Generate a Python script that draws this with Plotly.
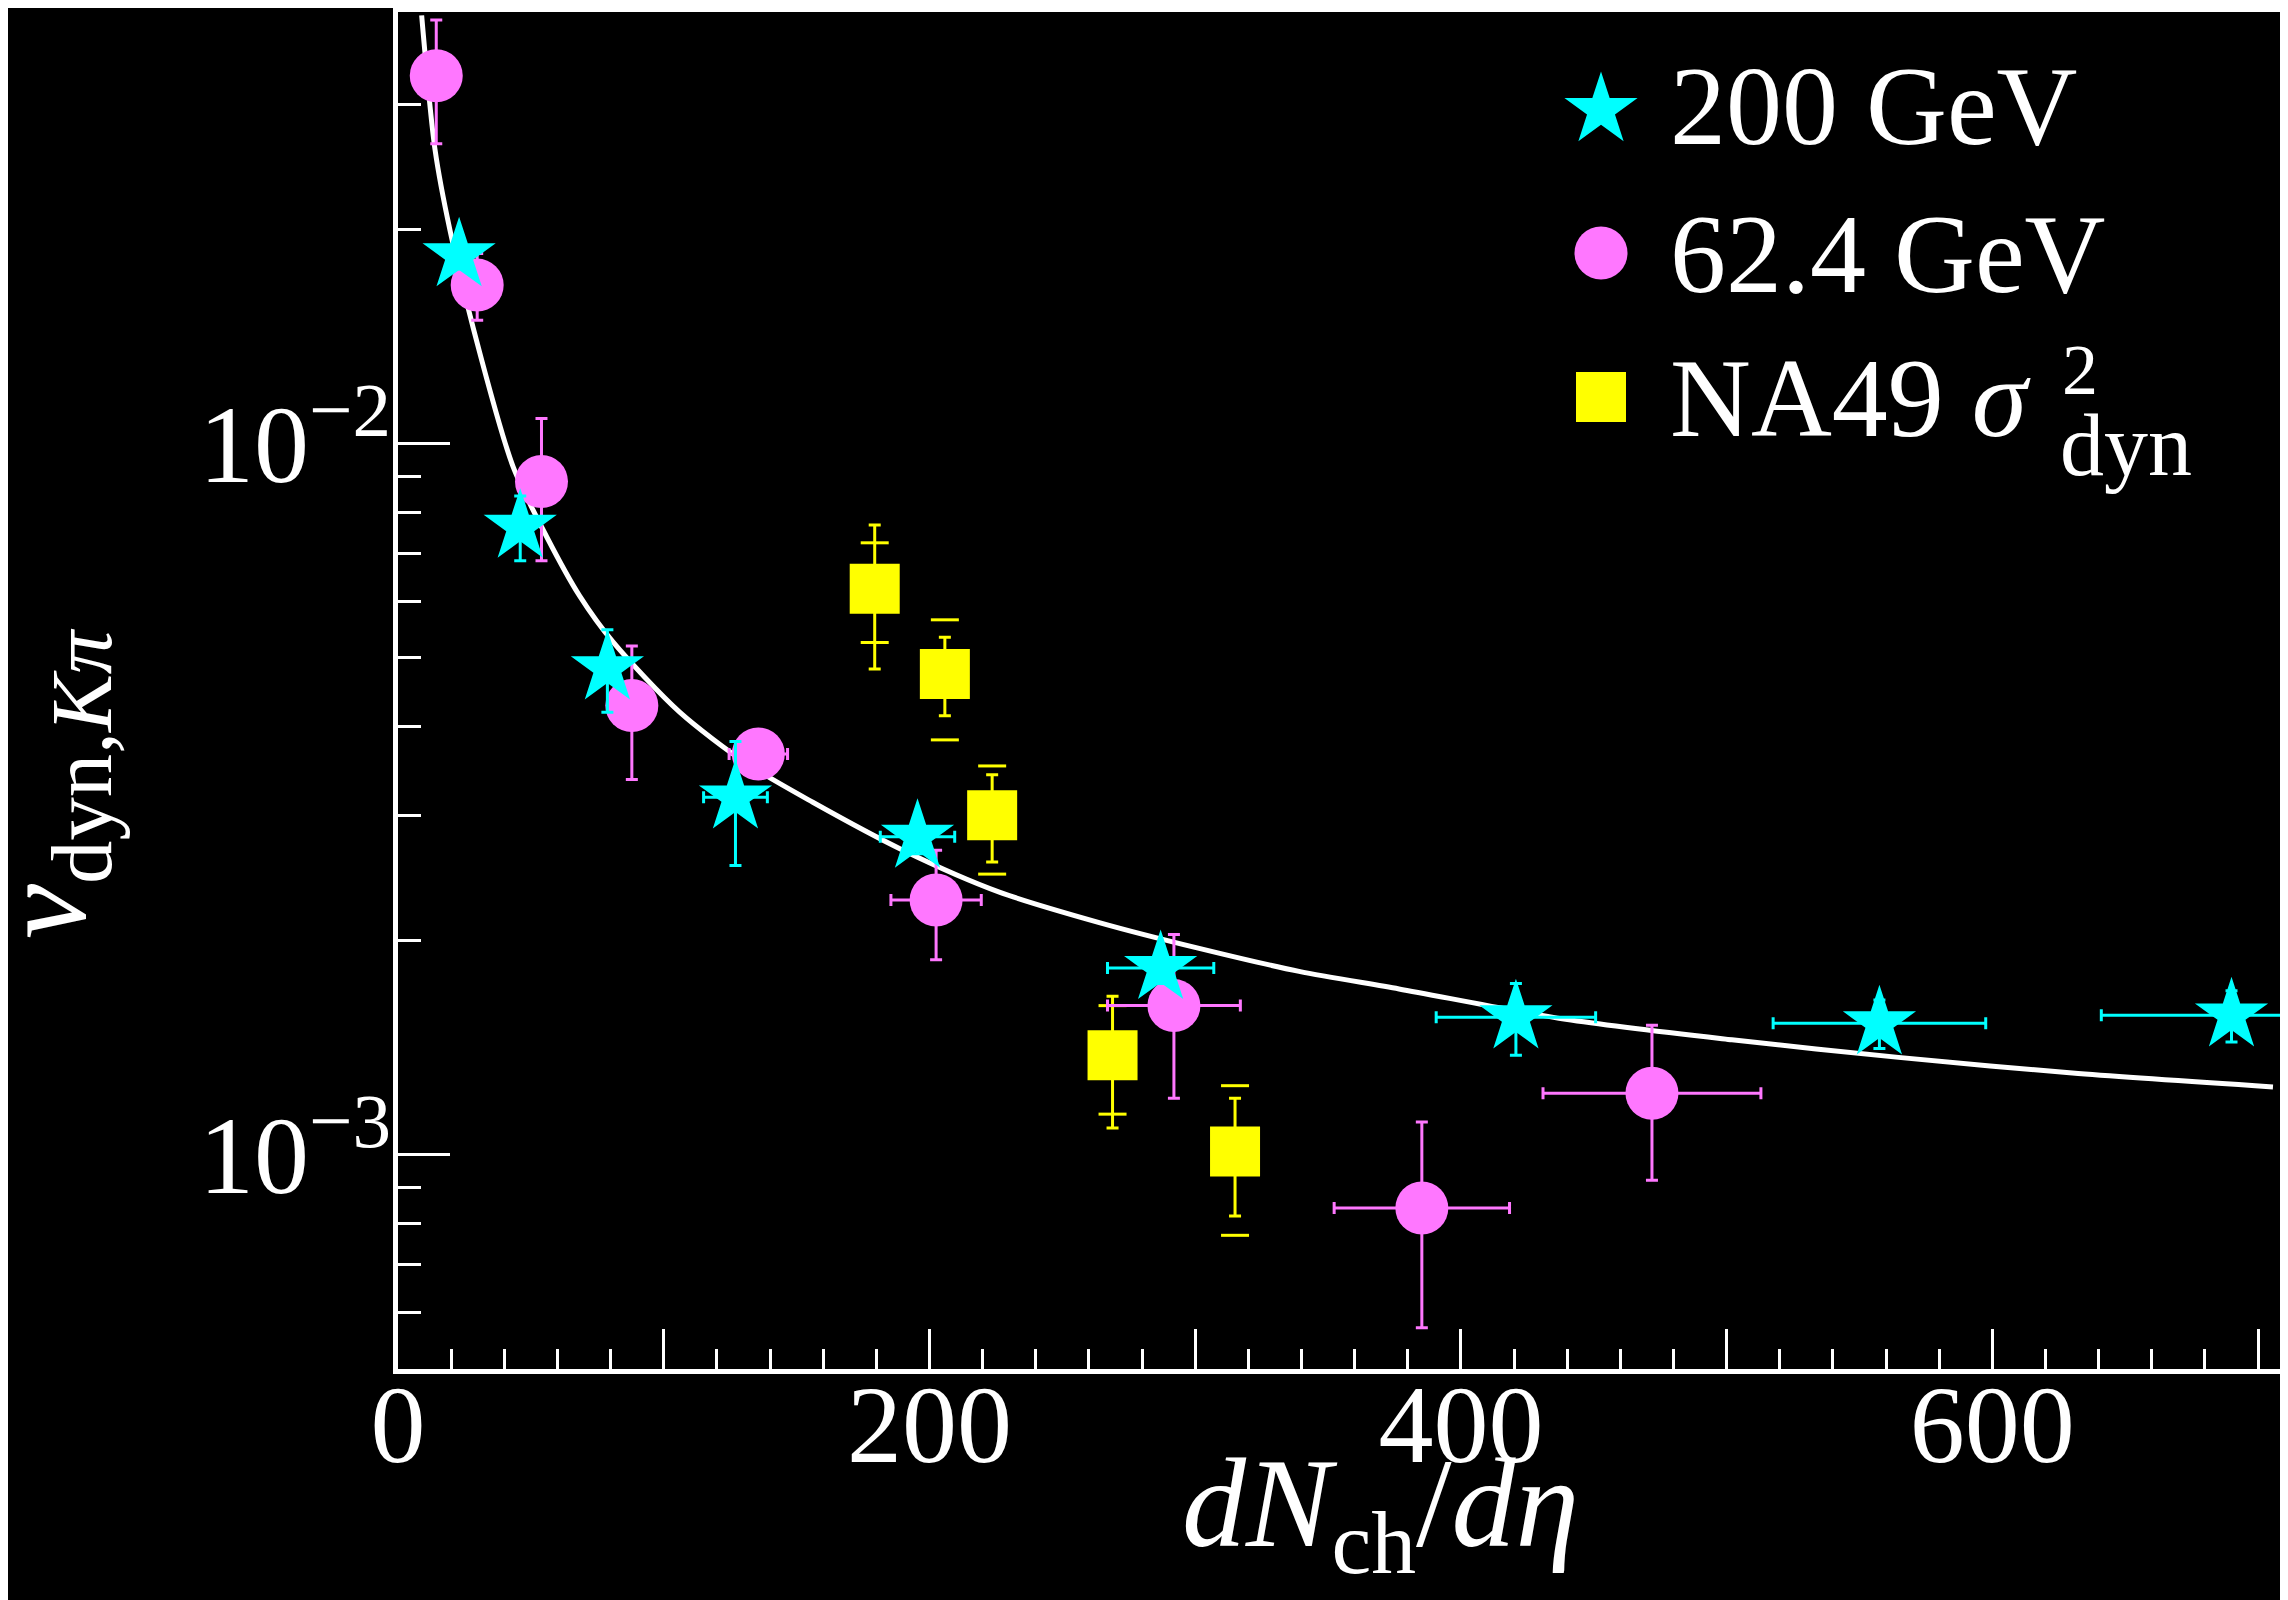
import plotly.graph_objects as go

# ---------------- data ----------------
# STAR 200 GeV (cyan stars)
star_x = [23.0, 46.0, 78.8, 127.0, 195.5, 287.0, 420.7, 557.5, 690.0]
star_y = [0.0184, 0.00764, 0.00483, 0.00318, 0.00280, 0.00183, 0.00156, 0.00153, 0.00157]
star_yerr = [0.0008, 0.0008, 0.00064, 0.00063, 0.00015, 0.00009, 0.00018, 0.00012, 0.00013]
star_xerr = [0, 0, 0, 12, 14, 20, 30, 40, 49]

# STAR 62.4 GeV (violet circles)
circ_x = [14.4, 29.8, 54.0, 88.0, 135.6, 202.5, 292.0, 385.3, 471.9]
circ_y = [0.0329, 0.0167, 0.00884, 0.00428, 0.00366, 0.00228, 0.00162, 0.000841, 0.00122]
circ_yerr = [0.0065, 0.0018, 0.0020, 0.00091, 0.0001, 0.0004, 0.00042, 0.00027, 0.0003]
circ_xerr = [0, 0, 0, 0, 11, 17, 25, 33, 41]

# NA49 sigma_dyn^2 (yellow squares): statistical and systematic errors
sq_x = [179.4, 205.8, 223.6, 268.9, 315.0]
sq_y = [0.00625, 0.00474, 0.00300, 0.00138, 0.00101]
sq_stat = [0.00143, 0.00060, 0.00042, 0.00029, 0.00019]
sq_sys = [0.00100, 0.00091, 0.00052, 0.00024, 0.00024]

# fit curve (white line)
curve_x = [8.9, 13.9, 19.5, 30.8, 43.3, 55.9, 68.4, 80.9, 106.0, 131.1, 156.1,
           190.0, 226.3, 263.9, 301.5, 339.1, 376.7, 439.4, 502.0, 564.7, 632.3, 705.6]
curve_y = [0.0400, 0.02595, 0.0200, 0.0134, 0.00928, 0.0074, 0.00610, 0.00526, 0.00419,
           0.00355, 0.00313, 0.00268, 0.00234, 0.00212, 0.00195, 0.00181, 0.00171,
           0.00155, 0.00145, 0.00137, 0.00130, 0.001245]

# axes
x_major_ticks = [0, 100, 200, 300, 400, 500, 600, 700]
x_tick_labels = ["0", "", "200", "", "400", "", "600", ""]
y_major_ticks = [1e-3, 1e-2]
y_tick_labels = ["10<sup>−3</sup>", "10<sup>−2</sup>"]
y_minor_ticks = [6e-4, 7e-4, 8e-4, 9e-4, 2e-3, 3e-3, 4e-3, 5e-3, 6e-3, 7e-3, 8e-3, 9e-3, 2e-2, 3e-2]

legend_labels = ["200 GeV", "62.4 GeV", "NA49 <i>σ</i>"]
legend_sup = "2"
legend_sub = "dyn"

# ---------------- style ----------------
CYAN = "#00FFFF"
VIOLET = "#FF77FF"
YELLOW = "#FFFF00"
FONT = "Liberation Serif"

OFF = 8                      # page body margin
W, H = 2288 - OFF, 1600 - OFF
# plot area in page pixels: left 398, top 12, right 2282, bottom 1369
ML, MT = 398 - OFF, 12 - OFF
MR = W - (2282 - OFF)
MB = H - (1369 - OFF)
PW, PH = W - ML - MR, H - MT - MB


def px(xpage):
    return (xpage - OFF - ML) / PW


def py(ypage):
    return (H - MB - (ypage - OFF)) / PH


fig = go.Figure()

# fit curve
fig.add_trace(go.Scatter(x=curve_x, y=curve_y, mode="lines",
                         line=dict(color="white", width=5, shape="spline", smoothing=0.8),
                         hoverinfo="skip", showlegend=False))

# NA49 systematic brackets
sys_x = sq_x + sq_x
sys_y = [v + e for v, e in zip(sq_y, sq_sys)] + [v - e for v, e in zip(sq_y, sq_sys)]
fig.add_trace(go.Scatter(x=sys_x, y=sys_y, mode="markers",
                         marker=dict(symbol="line-ew", size=20, color=YELLOW,
                                     line=dict(color=YELLOW, width=3)),
                         showlegend=False))

# NA49 squares
fig.add_trace(go.Scatter(x=sq_x, y=sq_y, mode="markers",
                         marker=dict(symbol="square", size=50, color=YELLOW, line=dict(width=0)),
                         error_y=dict(type="data", array=sq_stat, color=YELLOW, thickness=3, width=6),
                         showlegend=False))

# 62.4 GeV circles
fig.add_trace(go.Scatter(x=circ_x, y=circ_y, mode="markers",
                         marker=dict(symbol="circle", size=53, color=VIOLET, line=dict(width=0)),
                         error_y=dict(type="data", array=circ_yerr, color=VIOLET, thickness=3, width=6),
                         error_x=dict(type="data", array=circ_xerr, color=VIOLET, thickness=3, width=6),
                         showlegend=False))

# 200 GeV stars
fig.add_trace(go.Scatter(x=star_x, y=star_y, mode="markers",
                         marker=dict(symbol="star", size=55, color=CYAN, line=dict(width=0)),
                         error_y=dict(type="data", array=star_yerr, color=CYAN, thickness=3, width=6),
                         error_x=dict(type="data", array=star_xerr, color=CYAN, thickness=3, width=6),
                         showlegend=False))

# ---------------- hand-built legend (large symbols) ----------------
leg_sym = ["star", "circle", "square"]
leg_col = [CYAN, VIOLET, YELLOW]
leg_size = [55, 53, 50]
leg_ypix = [110, 253, 397]
leg_text_ypix = [106, 254, 398]
for s, c, sz, yp in zip(leg_sym, leg_col, leg_size, leg_ypix):
    fig.add_trace(go.Scatter(x=[px(1601)], y=[py(yp)], xaxis="x2", yaxis="y2", mode="markers",
                             marker=dict(symbol=s, size=sz, color=c, line=dict(width=0)),
                             showlegend=False, hoverinfo="skip", cliponaxis=False))

annotations = []
for lab, yp in zip(legend_labels, leg_text_ypix):
    annotations.append(dict(text=lab, x=px(1668), y=py(yp), xref="paper", yref="paper",
                            xanchor="left", yanchor="middle", showarrow=False,
                            font=dict(family=FONT, size=112, color="white")))
annotations.append(dict(text=legend_sup, x=px(2060), y=py(370), xref="paper", yref="paper",
                        xanchor="left", yanchor="middle", showarrow=False,
                        font=dict(family=FONT, size=72, color="white")))
annotations.append(dict(text=legend_sub, x=px(2058), y=py(445), xref="paper", yref="paper",
                        xanchor="left", yanchor="middle", showarrow=False,
                        font=dict(family=FONT, size=88, color="white")))

# axis titles
annotations.append(dict(text="<i>dN</i><sub>ch</sub>/<i>dη</i>", x=px(1380), y=py(1512),
                        xref="paper", yref="paper", xanchor="center", yanchor="middle",
                        showarrow=False, font=dict(family=FONT, size=128, color="white")))
annotations.append(dict(text="<i>ν</i><sub>dyn,<i>Kπ</i></sub>", x=px(52), y=py(784),
                        xref="paper", yref="paper", xanchor="center", yanchor="middle",
                        textangle=-90, showarrow=False,
                        font=dict(family=FONT, size=124, color="white")))

tickfont = dict(family=FONT, size=110, color="white")

fig.update_layout(
    width=W, height=H,
    margin=dict(l=ML, r=MR, t=MT, b=MB, pad=0, autoexpand=False),
    paper_bgcolor="black", plot_bgcolor="black",
    showlegend=False,
    annotations=annotations,
    xaxis=dict(range=[0, 709], showline=True, linecolor="white", linewidth=5, mirror=True,
               ticks="inside", tickmode="array", tickvals=x_major_ticks, ticktext=x_tick_labels,
               ticklen=40, tickwidth=3, tickcolor="white",
               minor=dict(ticks="inside", dtick=20, tick0=0, ticklen=20, tickwidth=3, tickcolor="white",
                          showgrid=False),
               showgrid=False, zeroline=False, tickfont=tickfont, ticklabelstandoff=-44,
               automargin=False),
    yaxis=dict(type="log", range=[-3.3015, -1.3932], showline=True, linecolor="white", linewidth=5,
               mirror=True, ticks="inside", tickmode="array", tickvals=y_major_ticks,
               ticktext=y_tick_labels,
               ticklen=52, tickwidth=3, tickcolor="white",
               minor=dict(ticks="inside", tickmode="array", tickvals=y_minor_ticks, ticklen=23,
                          tickwidth=3, tickcolor="white", showgrid=False),
               showgrid=False, zeroline=False, tickfont=tickfont, ticklabelstandoff=-20,
               automargin=False),
    xaxis2=dict(overlaying="x", anchor="y2", range=[0, 1], visible=False, fixedrange=True),
    yaxis2=dict(overlaying="y", anchor="x2", range=[0, 1], visible=False, fixedrange=True),
)

fig.write_html("out.html")
